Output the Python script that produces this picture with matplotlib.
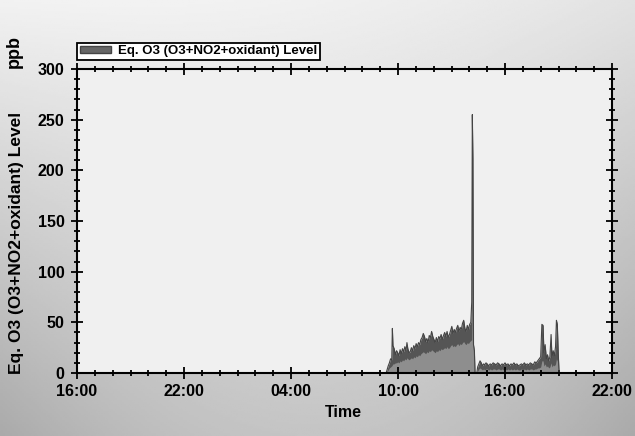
import numpy as np
import matplotlib
matplotlib.use('Agg')
import matplotlib.pyplot as plt
from matplotlib.patches import Patch

plt.rcParams['font.family'] = ['Liberation Sans', 'DejaVu Sans']
plt.rcParams['font.weight'] = 'bold'

# morning / midday block on the second day (upper envelope and lighter lower band, ppb)
times_a = ["09:20", "09:23", "09:27", "09:31", "09:35", "09:39", "09:41", "09:43", "09:47", "09:51",
           "09:55", "09:59", "10:03", "10:07", "10:11", "10:15", "10:19", "10:23", "10:27", "10:30",
           "10:33", "10:37", "10:41", "10:45", "10:49", "10:53", "10:57", "11:01", "11:05", "11:09",
           "11:13", "11:17", "11:21", "11:25", "11:29", "11:33", "11:37", "11:41", "11:45", "11:49",
           "11:53", "11:57", "12:01", "12:05", "12:09", "12:13", "12:17", "12:21", "12:25", "12:29",
           "12:33", "12:37", "12:41", "12:45", "12:49", "12:53", "12:57", "13:01", "13:05", "13:09",
           "13:13", "13:17", "13:21", "13:25", "13:29", "13:33", "13:37", "13:41", "13:45", "13:49",
           "13:53", "13:57", "14:01", "14:05", "14:08", "14:10", "14:12", "14:14", "14:17", "14:19"]
upper_a = [0, 3, 7, 10, 14, 13, 44, 27, 24, 18,
           22, 20, 17, 23, 19, 24, 21, 26, 22, 30,
           24, 20, 21, 25, 22, 27, 24, 29, 26, 30,
           28, 33, 35, 39, 36, 31, 34, 30, 37, 35,
           41, 36, 33, 30, 35, 31, 36, 34, 38, 33,
           37, 40, 36, 41, 35, 38, 42, 46, 39, 43,
           40, 44, 47, 41, 45, 43, 49, 52, 44, 41,
           47, 43, 48, 50, 70, 255, 212, 28, 22, 0]
lower_a = [0, 1, 3, 5, 6, 7, 8, 9, 9, 10,
           10, 11, 10, 12, 11, 13, 12, 14, 13, 15,
           14, 13, 14, 15, 14, 16, 15, 17, 16, 18,
           17, 19, 20, 21, 20, 19, 21, 20, 22, 21,
           23, 22, 21, 20, 22, 21, 23, 22, 24, 23,
           24, 25, 24, 26, 24, 25, 27, 28, 26, 27,
           26, 28, 29, 27, 29, 28, 30, 31, 29, 28,
           30, 29, 31, 32, 33, 120, 100, 20, 15, 0]

# afternoon / evening block on the second day
times_b = ["14:25", "14:28", "14:32", "14:36", "14:40", "14:44", "14:48", "14:52", "14:56", "15:00",
           "15:05", "15:10", "15:15", "15:20", "15:25", "15:30", "15:35", "15:40", "15:45", "15:50",
           "15:55", "16:00", "16:05", "16:10", "16:15", "16:20", "16:25", "16:30", "16:35", "16:40",
           "16:45", "16:50", "16:55", "17:00", "17:05", "17:10", "17:15", "17:20", "17:25", "17:30",
           "17:35", "17:40", "17:45", "17:50", "17:55", "18:00", "18:04", "18:08", "18:11", "18:15",
           "18:19", "18:23", "18:27", "18:31", "18:35", "18:38", "18:42", "18:46", "18:50", "18:53",
           "18:56", "18:59", "19:02"]
upper_b = [0, 6, 9, 12, 10, 7, 9, 8, 10, 9,
           7, 9, 8, 10, 9, 8, 10, 9, 7, 9,
           8, 10, 8, 9, 7, 9, 8, 10, 8, 9,
           7, 8, 9, 8, 10, 8, 9, 8, 10, 9,
           8, 11, 10, 12, 14, 16, 48, 47, 20, 28,
           14, 18, 12, 16, 38, 15, 22, 17, 26, 52,
           48, 20, 0]
lower_b = [0, 2, 4, 5, 4, 3, 4, 3, 4, 4,
           3, 4, 3, 4, 4, 3, 4, 4, 3, 4,
           3, 4, 3, 4, 3, 4, 3, 4, 3, 4,
           3, 3, 4, 3, 4, 3, 4, 3, 4, 4,
           3, 4, 4, 5, 5, 6, 12, 12, 7, 9,
           6, 7, 5, 6, 10, 6, 8, 7, 9, 14,
           12, 6, 0]

tick_hours = [0, 6, 12, 18, 24, 30]
tick_labels = ["16:00", "22:00", "04:00", "10:00", "16:00", "22:00"]


def to_hours(ts):
    # all samples are on the second day; axis starts at 16:00 of the first day
    out = []
    for s in ts:
        h, m = s.split(':')
        out.append(int(h) + int(m) / 60.0 + 24 - 16)
    return np.array(out)


fig = plt.figure(figsize=(6.35, 4.36), dpi=100)

# grey gradient backdrop
bg = fig.add_axes([0, 0, 1, 1], zorder=-10)
yy, xx = np.mgrid[0:1:200j, 0:1:300j]
shade = 0.97 - 0.2 * yy - 0.08 * (2 * xx - 1) ** 2 * (0.3 + yy) - 0.06 * xx * (1 - yy)
bg.imshow(shade, cmap='gray', vmin=0, vmax=1, aspect='auto', extent=[0, 1, 0, 1])
bg.axis('off')

ax = fig.add_axes([0.1213, 0.1445, 0.8425, 0.6972])
ax.set_facecolor('#f0f0f0')

for ts, up, lo in [(times_a, upper_a, lower_a), (times_b, upper_b, lower_b)]:
    h = to_hours(ts)
    ax.fill_between(h, 0, up, color='#555555', lw=0)
    ax.plot(h, up, color='#444444', lw=0.8)
    ax.fill_between(h, 0, lo, color='#8e8e8e', lw=0)

ax.set_xlim(0, 30)
ax.set_ylim(0, 300)
ax.set_xticks(tick_hours)
ax.set_xticklabels(tick_labels)
ax.set_xticks(np.arange(0, 31, 1), minor=True)
ax.set_yticks(np.arange(0, 301, 50))
ax.set_yticks(np.arange(0, 301, 10), minor=True)

ax.tick_params(which='both', direction='inout', top=True, right=True, width=1.3,
               colors='black', labelsize=11.5)
ax.tick_params(which='major', length=8)
ax.tick_params(which='minor', length=5)
ax.tick_params(axis='x', pad=4)
ax.tick_params(axis='y', pad=5)
for sp in ax.spines.values():
    sp.set_linewidth(1.5)

leg = ax.legend(handles=[Patch(facecolor='#666666', edgecolor='#444444')],
                labels=['Eq. O3 (O3+NO2+oxidant) Level'],
                loc='lower left', bbox_to_anchor=(0.0, 1.03), borderaxespad=0,
                fancybox=False, framealpha=1, edgecolor='black', fontsize=9.5,
                handlelength=2.4, handleheight=0.45, borderpad=0.2, handletextpad=0.5)
leg.get_frame().set_linewidth(1.3)

fig.text(14 / 635, 1 - 52 / 436, 'ppb', rotation=90, ha='center', va='center', fontsize=13)
fig.text(17 / 635, 1 - 243 / 436, 'Eq. O3 (O3+NO2+oxidant) Level', rotation=90,
         ha='center', va='center', fontsize=12.5)
fig.text(343 / 635, 1 - 412 / 436, 'Time', ha='center', va='center', fontsize=11.5)

plt.savefig('out.png', dpi=100)
